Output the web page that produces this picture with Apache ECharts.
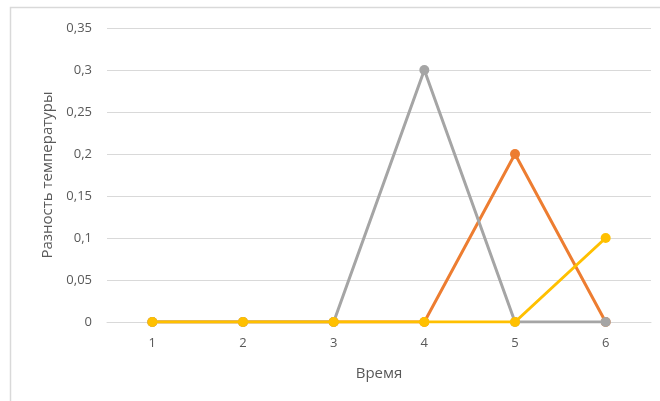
<!DOCTYPE html>
<html>
<head>
<meta charset="utf-8">
<script src="https://cdn.jsdelivr.net/npm/echarts@6/dist/echarts.min.js"></script>
<style>
  html, body { margin: 0; padding: 0; background: #fff; }
  #chart { width: 660px; height: 401px; }
</style>
</head>
<body>
<div id="chart"></div>
<script>
// Time steps and temperature differences per series
const categories = ['1', '2', '3', '4', '5', '6'];
const orangeValues = [0, 0, 0, 0, 0.2, 0];
const grayValues = [0, 0, 0, 0.3, 0, 0];
const yellowValues = [0, 0, 0, 0, 0, 0.1];
const yTicks = { min: 0, max: 0.35, step: 0.05 };

const fontFamily = 'Open Sans, Liberation Sans, Arial, sans-serif';
const textColor = '#595959';

function makeSeries(name, data, color, z) {
  return {
    name: name,
    type: 'line',
    data: data,
    z: z,
    symbol: 'circle',
    symbolSize: 10,
    showSymbol: true,
    lineStyle: { color: color, width: 3, cap: 'round', join: 'round' },
    itemStyle: { color: color, borderWidth: 0 },
    emphasis: { disabled: true },
    animation: false
  };
}

const chart = echarts.init(document.getElementById('chart'), null, { renderer: 'canvas' });
chart.setOption({
  backgroundColor: '#ffffff',
  animation: false,
  graphic: [{
    type: 'rect',
    shape: { x: 10.5, y: 7.5, width: 700, height: 500 },
    style: { fill: 'none', stroke: '#d9d9d9', lineWidth: 1.5 },
    silent: true,
    z: -1
  }],
  grid: { left: 107, right: 9, top: 28, bottom: 79, containLabel: false },
  xAxis: {
    type: 'category',
    data: categories,
    boundaryGap: true,
    name: 'Время',
    nameLocation: 'middle',
    nameGap: 44,
    nameTextStyle: { color: textColor, fontSize: 15, fontFamily: fontFamily },
    axisLine: { show: true, lineStyle: { color: '#d9d9d9', width: 1 } },
    axisTick: { show: false },
    axisLabel: { color: textColor, fontSize: 13, fontFamily: fontFamily, margin: 15 },
    splitLine: { show: false }
  },
  yAxis: {
    type: 'value',
    min: yTicks.min,
    max: yTicks.max,
    interval: yTicks.step,
    name: 'Разность температуры',
    nameLocation: 'middle',
    nameGap: 51,
    nameRotate: 90,
    nameTextStyle: { color: textColor, fontSize: 15, fontFamily: fontFamily },
    axisLine: { show: false },
    axisTick: { show: false },
    axisLabel: {
      color: textColor,
      fontSize: 13,
      fontFamily: fontFamily,
      margin: 15,
      formatter: function (v) {
        return String(parseFloat(v.toFixed(2))).replace('.', ',');
      }
    },
    splitLine: { show: true, lineStyle: { color: '#d9d9d9', width: 1 } }
  },
  series: [
    makeSeries('Ряд 1', orangeValues, '#ED7D31', 2),
    makeSeries('Ряд 2', grayValues, '#A5A5A5', 3),
    makeSeries('Ряд 3', yellowValues, '#FFC000', 4)
  ]
});
</script>
</body>
</html>
